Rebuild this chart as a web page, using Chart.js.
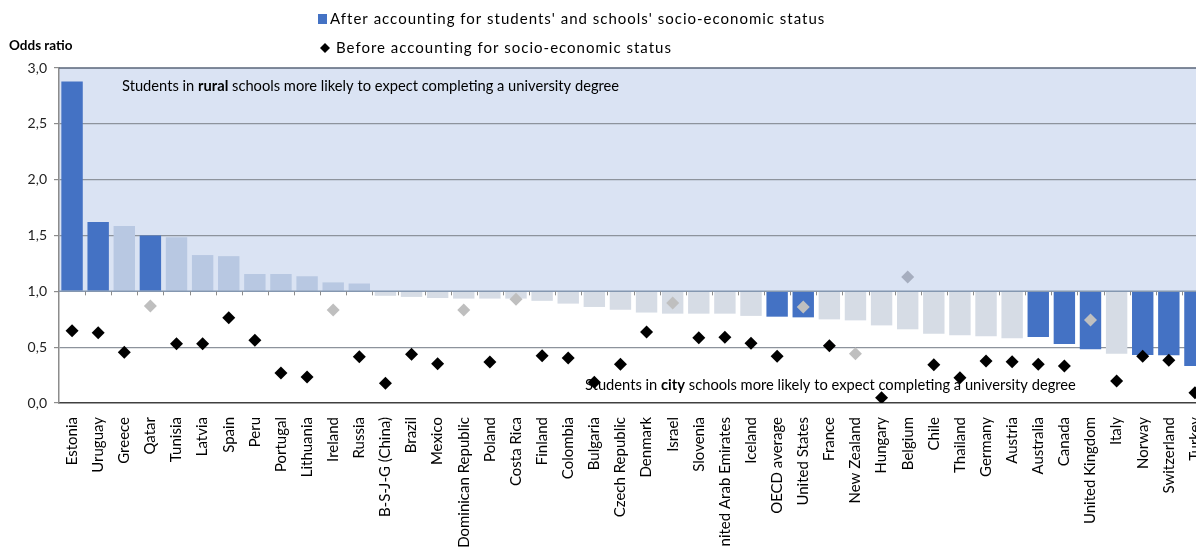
<!DOCTYPE html>
<html>
<head>
<meta charset="utf-8">
<title>Odds ratio - rural vs city schools</title>
<script src="https://cdn.jsdelivr.net/npm/chart.js@4/dist/chart.umd.min.js"></script>
<style>
    html, body { margin: 0; padding: 0; background: #fff; overflow: hidden; }
    #wrap { width: 1222px; height: 600px; }
</style>
</head>
<body>
<div id="wrap"><canvas id="oddsChart"></canvas></div>
<script>
// Countries, in the order of the chart
const categories = ['Estonia', 'Uruguay', 'Greece', 'Qatar', 'Tunisia', 'Latvia', 'Spain', 'Peru', 'Portugal', 'Lithuania',
    'Ireland', 'Russia', 'B-S-J-G (China)', 'Brazil', 'Mexico', 'Dominican Republic', 'Poland', 'Costa Rica', 'Finland', 'Colombia',
    'Bulgaria', 'Czech Republic', 'Denmark', 'Israel', 'Slovenia', 'United Arab Emirates', 'Iceland', 'OECD average', 'United States', 'France',
    'New Zealand', 'Hungary', 'Belgium', 'Chile', 'Thailand', 'Germany', 'Austria', 'Australia', 'Canada', 'United Kingdom',
    'Italy', 'Norway', 'Switzerland', 'Turkey'];

// Odds ratio after accounting for students' and schools' socio-economic status (bars)
const afterValues = [2.88, 1.62, 1.585, 1.50, 1.485, 1.325, 1.315, 1.155, 1.155, 1.135,
    1.08, 1.07, 0.96, 0.95, 0.94, 0.935, 0.935, 0.935, 0.915, 0.89,
    0.86, 0.835, 0.81, 0.80, 0.80, 0.80, 0.78, 0.773, 0.767, 0.749,
    0.74, 0.695, 0.66, 0.62, 0.606, 0.597, 0.579, 0.591, 0.529, 0.482,
    0.44, 0.43, 0.427, 0.331];
// 1 = statistically significant (dark bar)
const afterSignificant = [1, 1, 0, 1, 0, 0, 0, 0, 0, 0,
    0, 0, 0, 0, 0, 0, 0, 0, 0, 0,
    0, 0, 0, 0, 0, 0, 0, 1, 1, 0,
    0, 0, 0, 0, 0, 0, 0, 1, 1, 1,
    0, 1, 1, 1];

// Odds ratio before accounting for socio-economic status (diamonds)
const beforeValues = [0.647, 0.629, 0.454, 0.868, 0.531, 0.531, 0.764, 0.561, 0.269, 0.233,
    0.833, 0.415, 0.176, 0.436, 0.352, 0.833, 0.367, 0.928, 0.424, 0.403,
    0.185, 0.346, 0.636, 0.895, 0.585, 0.588, 0.534, 0.418, 0.859, 0.513,
    0.441, 0.048, 1.128, 0.343, 0.227, 0.376, 0.37, 0.346, 0.331, 0.743,
    0.197, 0.418, 0.382, 0.092];
// 1 = statistically significant (black diamond)
const beforeSignificant = [1, 1, 1, 0, 1, 1, 1, 1, 1, 1,
    0, 1, 1, 1, 1, 0, 1, 0, 1, 1,
    1, 1, 1, 0, 1, 1, 1, 1, 0, 1,
    0, 1, 0, 1, 1, 1, 1, 1, 1, 0,
    1, 1, 1, 1];

const yTicks = [0, 0.5, 1, 1.5, 2, 2.5, 3];

const FONT = 'Lato, "Open Sans", sans-serif';
const DARK_BLUE = '#4472C4';

// Light bars / grey diamonds look a bit bluer inside the shaded band
const barColors = afterValues.map((v, i) => afterSignificant[i] ? DARK_BLUE : (v > 1 ? '#B8C8E2' : '#D6DCE5'));
const pointColors = beforeValues.map((v, i) => beforeSignificant[i] ? '#000000' : (v > 1 ? '#A6AEBF' : '#BFBFBF'));

// Shaded band, the 1.0 line, legend and the two notes
const decorPlugin = {
    id: 'decor',
    beforeDraw(chart) {
        const { ctx, chartArea, scales } = chart;
        const yTop = scales.y.getPixelForValue(3);
        const yOne = scales.y.getPixelForValue(1);
        ctx.save();
        ctx.fillStyle = '#DAE3F3';
        ctx.fillRect(chartArea.left, yTop, chartArea.right - chartArea.left, yOne - yTop);
        ctx.restore();
    },
    afterDatasetsDraw(chart) {
        const { ctx, chartArea, scales } = chart;
        const yTop = scales.y.getPixelForValue(3);
        const yOne = scales.y.getPixelForValue(1);
        ctx.save();
        ctx.strokeStyle = '#596579';
        ctx.lineWidth = 1.5;
        ctx.beginPath();
        ctx.moveTo(chartArea.left, yTop);
        ctx.lineTo(chartArea.right, yTop);
        ctx.stroke();
        ctx.strokeStyle = '#8497B0';
        ctx.lineWidth = 1.5;
        ctx.beginPath();
        ctx.moveTo(chartArea.left, yOne);
        ctx.lineTo(chartArea.right, yOne);
        ctx.stroke();
        // small tick marks hanging under the 1.0 line
        ctx.strokeStyle = '#8C8C8C';
        ctx.lineWidth = 1;
        const step = (chartArea.right - chartArea.left) / categories.length;
        for (let i = 1; i < categories.length; i++) {
            const x = Math.round(chartArea.left + i * step) + 0.5;
            ctx.beginPath();
            ctx.moveTo(x, yOne);
            ctx.lineTo(x, yOne + 4);
            ctx.stroke();
        }
        ctx.restore();
    },
    afterDraw(chart) {
        const { ctx, chartArea, scales } = chart;
        ctx.save();
        ctx.textBaseline = 'middle';
        ctx.fillStyle = '#000';

        // axis title
        ctx.font = 'bold 13.5px ' + FONT;
        ctx.fillText('Odds ratio', 9, 46);

        // legend
        ctx.font = '15px ' + FONT;
        ctx.letterSpacing = '1px';
        ctx.fillStyle = DARK_BLUE;
        ctx.fillRect(318, 14, 9, 10);
        ctx.fillStyle = '#000';
        ctx.fillText("After accounting for students' and schools' socio-economic status", 330, 19);
        ctx.beginPath();
        ctx.moveTo(325, 43);
        ctx.lineTo(330, 48);
        ctx.lineTo(325, 53);
        ctx.lineTo(320, 48);
        ctx.closePath();
        ctx.fill();
        ctx.fillText('Before accounting for socio-economic status', 336, 48);
        ctx.letterSpacing = '0px';

        // notes inside the plot
        const drawNote = (parts, x, y) => {
            let cx = x;
            parts.forEach(([txt, bold]) => {
                ctx.font = (bold ? 'bold ' : '') + '14.7px ' + FONT;
                ctx.fillText(txt, cx, y);
                cx += ctx.measureText(txt).width;
            });
        };
        drawNote([['Students in ', false], ['rural', true], [' schools more likely to expect completing a university degree', false]],
            chartArea.left + 63, scales.y.getPixelForValue(2.84));
        drawNote([['Students in ', false], ['city', true], [' schools more likely to expect completing a university degree', false]],
            chartArea.left + 526, scales.y.getPixelForValue(0.16));
        ctx.restore();
    }
};

const ctx = document.getElementById('oddsChart').getContext('2d');
new Chart(ctx, {
    data: {
        labels: categories,
        datasets: [{
            type: 'scatter',
            label: 'Before accounting for socio-economic status',
            data: beforeValues.map((v, i) => ({ x: categories[i], y: v })),
            pointStyle: 'rectRot',
            pointRadius: 6.5,
            pointHoverRadius: 6.5,
            pointBackgroundColor: pointColors,
            pointBorderColor: pointColors,
            pointBorderWidth: 0,
            order: 0
        }, {
            type: 'bar',
            label: "After accounting for students' and schools' socio-economic status",
            data: afterValues,
            base: 1,
            backgroundColor: barColors,
            borderWidth: 0,
            barPercentage: 0.82,
            categoryPercentage: 1,
            order: 1
        }]
    },
    options: {
        responsive: true,
        maintainAspectRatio: false,
        animation: false,
        layout: {
            padding: { top: 68, right: 14, left: 0, bottom: 0 }
        },
        scales: {
            x: {
                type: 'category',
                labels: categories,
                offset: true,
                grid: { display: false },
                border: { display: true, color: '#404040', width: 1.5 },
                ticks: {
                    autoSkip: false,
                    minRotation: 90,
                    maxRotation: 90,
                    padding: 6,
                    color: '#000',
                    font: { family: FONT, size: 15 }
                },
                afterFit(scale) { scale.height = 197; }
            },
            y: {
                min: 0,
                max: 3,
                afterBuildTicks(scale) { scale.ticks = yTicks.map(v => ({ value: v })); },
                grid: {
                    color: (c) => (c.tick.value === 0 || c.tick.value === 3 || c.tick.value === 1) ? 'rgba(0,0,0,0)' : '#8D939C',
                    tickColor: '#8C8C8C',
                    tickLength: 5,
                    lineWidth: 1.2
                },
                border: { color: '#8C8C8C', width: 1.5 },
                ticks: {
                    color: '#222',
                    padding: 7,
                    font: { family: FONT, size: 14 },
                    callback: (v) => Number(v).toFixed(1).replace('.', ',')
                },
                afterFit(scale) { scale.width = 59; }
            }
        },
        plugins: {
            legend: { display: false },
            tooltip: { enabled: false }
        }
    },
    plugins: [decorPlugin]
});
</script>
</body>
</html>
